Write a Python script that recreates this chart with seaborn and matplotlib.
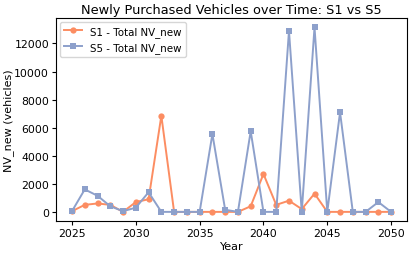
import numpy as np
import pandas as pd
import matplotlib
matplotlib.use('Agg')
import matplotlib.pyplot as plt
import seaborn as sns

# Data
years = list(range(2025, 2051))
s1_nv_new = [50, 500, 600, 500, 0, 700, 900, 6850, 0, 0, 0, 0, 0, 0, 400,
             2700, 500, 800, 200, 1300, 0, 0, 0, 0, 0, 0]
s5_nv_new = [50, 1600, 1150, 400, 50, 300, 1400, 0, 0, 0, 0, 5550, 150, 0, 5750,
             0, 0, 12900, 0, 13150, 0, 7100, 0, 0, 700, 0]

colors = sns.color_palette('Set2')

fig, ax = plt.subplots(figsize=(4.12, 2.55), dpi=100)
sns.lineplot(x=years, y=s1_nv_new, marker='o', color=colors[1], label='S1 - Total NV_new',
             markersize=4.5, markeredgewidth=0, linewidth=1.4, ax=ax)
sns.lineplot(x=years, y=s5_nv_new, marker='s', color=colors[2], label='S5 - Total NV_new',
             markersize=4.5, markeredgewidth=0, linewidth=1.4, ax=ax)

ax.set_title('Newly Purchased Vehicles over Time: S1 vs S5', fontsize=9.3, pad=4)
ax.set_xlabel('Year', fontsize=8, labelpad=2)
ax.set_ylabel('NV_new (vehicles)', fontsize=8, labelpad=0)
ax.tick_params(labelsize=7.8, length=3, pad=2)
ax.legend(loc='upper left', fontsize=7.4, borderaxespad=0.35, handlelength=1.8)

fig.subplots_adjust(left=0.136, right=0.988, top=0.925, bottom=0.129)
fig.savefig('out.png')
